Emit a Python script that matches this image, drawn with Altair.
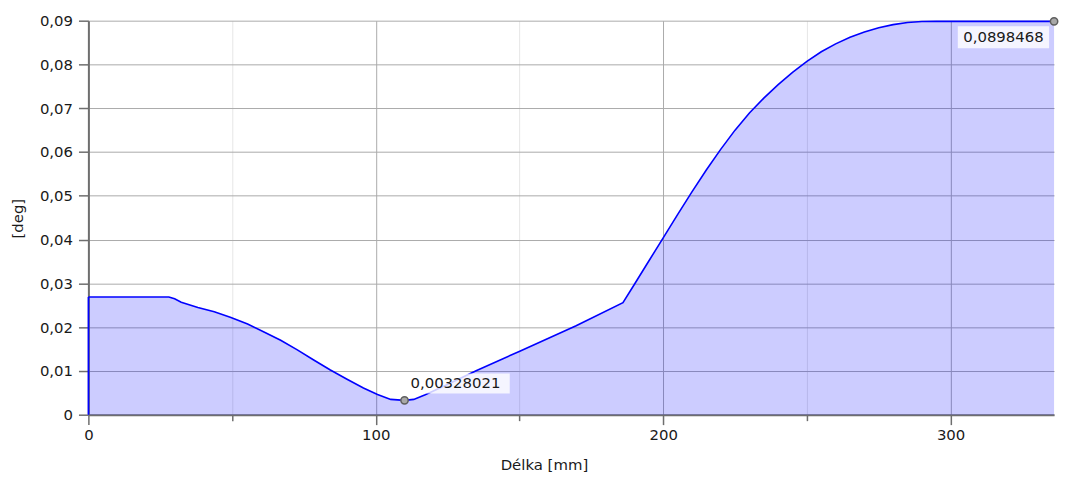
import altair as alt
import pandas as pd

# Curve (Délka [mm] vs [deg])
X_MM = [0, 28, 30, 32.3, 38.1, 43.8, 49.6, 55.4, 61.1, 66.9, 72.7, 78.4, 84.2, 90, 95.7,
        100.6, 105.2, 110, 113.2, 117, 123.6, 135.1, 150.1, 169.7, 186, 190, 195, 200,
        205, 210, 215, 220, 225, 230, 235, 240, 245, 250, 255, 260, 265, 270, 275, 280,
        285, 290, 295, 336]
Y_DEG = [0.0269, 0.0269, 0.0265, 0.0257, 0.0245, 0.0235, 0.0222, 0.0207, 0.0189, 0.0170,
         0.0148, 0.0125, 0.0102, 0.0081, 0.0061, 0.0046, 0.0035, 0.00328021, 0.0035,
         0.0045, 0.0065, 0.0101, 0.0145, 0.0203, 0.0256, 0.0298, 0.0351, 0.0404, 0.0457,
         0.0509, 0.0559, 0.0606, 0.0650, 0.0689, 0.0723, 0.0754, 0.0782, 0.0807, 0.0829,
         0.0847, 0.0862, 0.0874, 0.0884, 0.0891, 0.0896, 0.08983, 0.0898468, 0.0898468]

ANN_X = [110, 336]
ANN_Y = [0.00328021, 0.0898468]
ANN_LABEL = ["0,00328021", "0,0898468"]

X_TICKS = [0, 50, 100, 150, 200, 250, 300]
Y_TICKS = [round(0.005 * i, 3) for i in range(19)]

df = pd.DataFrame({"x": X_MM, "y": Y_DEG})
first = df.iloc[[0]]
ann = pd.DataFrame({"x": ANN_X, "y": ANN_Y, "label": ANN_LABEL})
ann_min = ann.iloc[[0]]
ann_max = ann.iloc[[1]]

FONT = "DejaVu Sans"
FS = 15
TXT = "#1a1a1a"
MAJOR_Y = "round(datum.value*1000) % 10 == 0"
MAJOR_X = "datum.value % 100 == 0"

x_scale = alt.Scale(domain=[0, 336], nice=False, zero=False)
y_scale = alt.Scale(domain=[0, 0.09], nice=False)

x_axis = alt.Axis(
    values=X_TICKS, title="Délka [mm]",
    labelExpr=f"{MAJOR_X} ? format(datum.value, 'd') : ''",
    grid=True,
    gridColor={"condition": {"test": MAJOR_X, "value": "#aaaaaa"}, "value": "#e6e6e6"},
    tickSize={"condition": {"test": MAJOR_X, "value": 10}, "value": 6},
    tickColor="#6e6e6e", tickWidth=1.5,
    domainColor="#6e6e6e", domainWidth=2,
    labelFont=FONT, labelFontSize=FS, labelColor=TXT, labelPadding=3,
    labelFlush=False, labelOverlap=False,
    titleFont=FONT, titleFontSize=FS, titleColor=TXT, titleFontWeight="normal",
    titleX=459, titleY=50, titleAnchor="start", titleAlign="center", titleBaseline="middle",
)
y_axis = alt.Axis(
    values=Y_TICKS, title="[deg]",
    labelExpr=f"{MAJOR_Y} ? (datum.value == 0 ? '0' : replace(format(datum.value, '.2f'), '.', ',')) : ''",
    grid=True,
    gridColor={"condition": {"test": MAJOR_Y, "value": "#aaaaaa"}, "value": "#e6e6e6"},
    tickSize={"condition": {"test": MAJOR_Y, "value": 10}, "value": 5},
    tickColor="#6e6e6e", tickWidth=1.5,
    domainColor="#6e6e6e", domainWidth=2,
    labelFont=FONT, labelFontSize=FS, labelColor=TXT, labelPadding=6,
    labelFlush=False, labelOverlap=False,
    titleFont=FONT, titleFontSize=FS, titleColor=TXT, titleFontWeight="normal",
    titleX=-71, titleY=199, titleAngle=-90, titleAlign="center", titleBaseline="middle",
)

base = alt.Chart(df).encode(
    x=alt.X("x:Q", scale=x_scale, axis=x_axis),
    y=alt.Y("y:Q", scale=y_scale, axis=y_axis),
)

area = base.mark_area(color="#0000ff", opacity=0.2)
line = base.mark_line(color="#0000ff", strokeWidth=1.6)

def pos(d):
    return alt.Chart(d).encode(
        x=alt.X("x:Q", scale=x_scale), y=alt.Y("y:Q", scale=y_scale))

edge = pos(first).mark_rule(color="#0000ff", strokeWidth=1.6).encode(y2=alt.datum(0))

box_min = pos(ann_min).mark_point(
    shape="M-1,-0.196L1,-0.196L1,0.196L-1,0.196Z", size=102 ** 2, filled=True,
    fill="white", fillOpacity=0.8, strokeWidth=0, xOffset=55, yOffset=-17)
box_max = pos(ann_max).mark_point(
    shape="M-1,-0.239L1,-0.239L1,0.239L-1,0.239Z", size=92 ** 2, filled=True,
    fill="white", fillOpacity=0.8, strokeWidth=0, xOffset=-51, yOffset=16)

txt_min = pos(ann_min).mark_text(
    align="left", baseline="middle", dx=6, dy=-17, font=FONT, fontSize=FS, color=TXT
).encode(text="label:N")
txt_max = pos(ann_max).mark_text(
    align="center", baseline="middle", dx=-51, dy=16, font=FONT, fontSize=FS, color=TXT
).encode(text="label:N")

markers = pos(ann).mark_point(
    shape="circle", size=55, filled=False, fill="#a8a8a8", fillOpacity=1,
    stroke="#5e5e5e", strokeWidth=1.5, opacity=1)

chart = alt.layer(area, line, edge, box_min, box_max, txt_min, txt_max, markers).properties(
    width=973, height=397,
    autosize=alt.AutoSizeParams(type="none"),
    padding={"left": 81, "top": 11, "right": 8, "bottom": 62},
).configure_view(stroke=None)

chart.save("out.html", embed_options={"renderer": "svg", "actions": False})
